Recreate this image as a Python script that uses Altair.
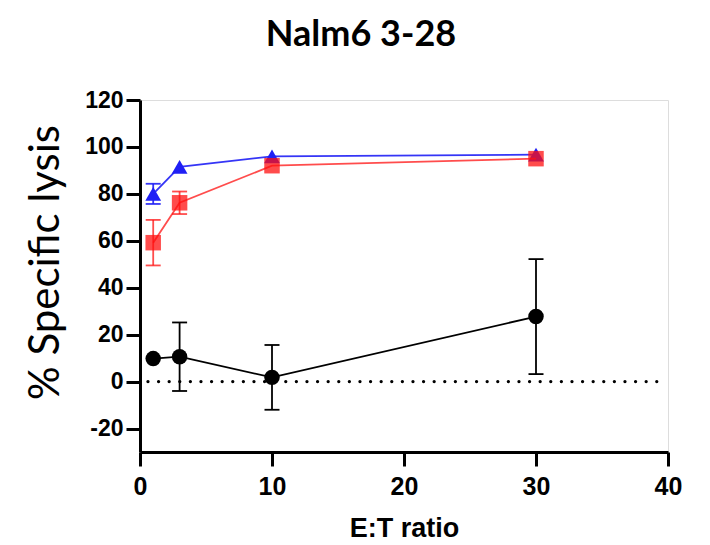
import altair as alt
import pandas as pd

# ---- data ----
et_ratio = [1, 3, 10, 30]
series_names = ["Blue", "Red", "Black"]
blue_mean = [80.0, 91.5, 96.0, 96.7]
blue_sd = [4.3, 0.0, 0.0, 0.0]
red_mean = [59.2, 76.2, 92.0, 95.0]
red_sd = [9.7, 4.8, 0.0, 0.0]
black_mean = [9.8, 10.6, 1.8, 27.7]
black_sd = [0.0, 14.6, 13.8, 24.5]
y_ticks = [-20, 0, 20, 40, 60, 80, 100, 120]
x_ticks = [0, 10, 20, 30, 40]

rows = []
for name, means, sds in zip(series_names, [blue_mean, red_mean, black_mean], [blue_sd, red_sd, black_sd]):
    for x, m, s in zip(et_ratio, means, sds):
        rows.append({"series": name, "x": x, "mean": m, "lo": m - s, "hi": m + s, "sd": s})
df = pd.DataFrame(rows)
zero_df = pd.DataFrame({"x1": [0.6], "x2": [39.6], "y": [0]})

xs = alt.Scale(domain=[0, 40], nice=False, zero=False)
ys = alt.Scale(domain=[-30, 120], nice=False, zero=False)

minus_fix = "datum.value < 0 ? '-' + abs(datum.value) : datum.label"

x_axis = alt.Axis(values=x_ticks, title="E:T ratio", grid=False, domainWidth=3, domainColor="black",
                  tickWidth=3, tickColor="black", tickSize=14, labelFont="Liberation Sans",
                  labelFontWeight="bold", labelFontSize=25, labelColor="black", labelPadding=8,
                  titleFont="Liberation Sans", titleFontWeight="bold", titleFontSize=27,
                  titleColor="black", titleY=84, titleBaseline="alphabetic", labelFlush=False)
y_axis = alt.Axis(values=y_ticks, title="% Specific lysis", grid=False, domainWidth=3, domainColor="black",
                  tickWidth=3, tickColor="black", tickSize=14, labelFont="Liberation Sans",
                  labelFontWeight="bold", labelFontSize=23, labelColor="black", labelPadding=3,
                  labelExpr=minus_fix,
                  titleFont="Lato", titleFontWeight="normal", titleFontSize=42, titleColor="black",
                  titleX=-95, titleY=162, titleBaseline="middle", titleAngle=-90, labelFlush=False)

base = alt.Chart(df)

zero_line = alt.Chart(zero_df).mark_rule(color="black", strokeWidth=3.2, strokeDash=[0.1, 10.5],
                                         strokeCap="round").encode(
    x=alt.X("x1:Q", scale=xs, axis=x_axis), x2="x2:Q", y=alt.Y("y:Q", scale=ys, axis=y_axis))

styles = {
    "Blue": dict(color="#1F1FF5", shape="triangle-up", size=250, opacity=1.0, line_opacity=0.9),
    "Red": dict(color="#FF1010", shape="square", size=240, opacity=0.75, line_opacity=0.75),
    "Black": dict(color="black", shape="circle", size=240, opacity=1.0, line_opacity=1.0),
}

layers = [zero_line]
for name in series_names:
    st = styles[name]
    sb = base.transform_filter(alt.datum.series == name)
    line = sb.mark_line(color=st["color"], strokeWidth=1.8, opacity=st["line_opacity"]).encode(
        x=alt.X("x:Q", scale=xs), y=alt.Y("mean:Q", scale=ys))
    eb = sb.transform_filter(alt.datum.sd > 0)
    bars = eb.mark_rule(color=st["color"], strokeWidth=1.8, opacity=st["line_opacity"]).encode(
        x=alt.X("x:Q", scale=xs), y=alt.Y("lo:Q", scale=ys), y2="hi:Q")
    cap_lo = eb.mark_tick(color=st["color"], thickness=1.8, size=15, orient="horizontal",
                          opacity=st["line_opacity"]).encode(
        x=alt.X("x:Q", scale=xs), y=alt.Y("lo:Q", scale=ys))
    cap_hi = eb.mark_tick(color=st["color"], thickness=1.8, size=15, orient="horizontal",
                          opacity=st["line_opacity"]).encode(
        x=alt.X("x:Q", scale=xs), y=alt.Y("hi:Q", scale=ys))
    pts = sb.mark_point(filled=True, shape=st["shape"], size=st["size"], color=st["color"],
                        opacity=st["opacity"], strokeWidth=0).encode(
        x=alt.X("x:Q", scale=xs), y=alt.Y("mean:Q", scale=ys))
    layers += [line, bars, cap_lo, cap_hi, pts]

chart = alt.layer(*layers).properties(
    width=528, height=352,
    title=alt.TitleParams("Nalm6 3-28", font="Lato", fontWeight="bold", fontSize=36, color="black",
                          anchor="middle", dx=-43, offset=35),
    autosize=alt.AutoSizeParams(type="none"),
    padding={"left": 132, "top": 92, "right": 34, "bottom": 93},
).configure_view(stroke=None).configure(background="white")

chart.save("out.html", embed_options={"renderer": "svg", "actions": False})
